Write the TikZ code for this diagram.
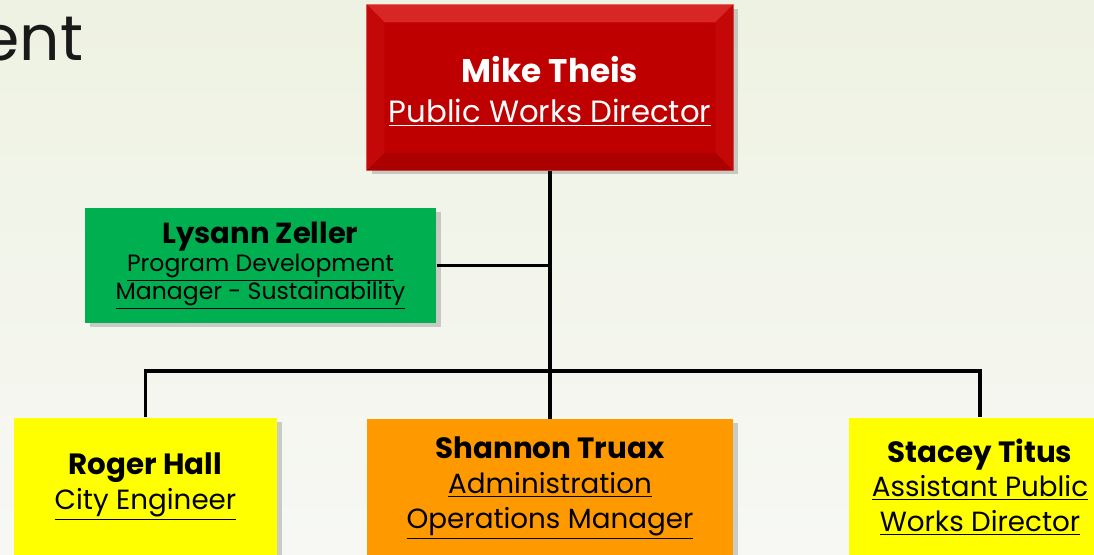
\documentclass[tikz,border=0pt]{standalone}
\usepackage{fontspec}
\setmainfont{Poppins}
\usetikzlibrary{positioning,shadows}

\definecolor{bossred}{HTML}{BE0000}
\definecolor{bevellight}{HTML}{D82624}
\definecolor{beveldark}{HTML}{AC0000}
\definecolor{bevelside}{HTML}{C40808}
\definecolor{staffgreen}{HTML}{00B050}
\definecolor{staffyellow}{HTML}{FFFF00}
\definecolor{stafforange}{HTML}{FF9900}
\definecolor{bgtop}{HTML}{EEF2E2}
\definecolor{bgbottom}{HTML}{F7F8F4}

\newcommand{\staffname}[1]{{\fontsize{16.7}{19.8}\selectfont\textbf{#1}}}

\begin{document}
\begin{tikzpicture}[x=0.02cm,y=-0.02cm,
            thick,
            org box/.style={rectangle,inner sep=0pt,align=center,
                font=\fontsize{15.8}{19.8}\selectfont,
                drop shadow={shadow xshift=0.1cm,shadow yshift=-0.08cm,
                    opacity=0.3,fill=black!60}},
            link/.style={line width=2pt,black}]

        % Background
        \clip (0,0) rectangle (1094,554);
        \useasboundingbox (0,0) rectangle (1094,554);
        \shade[top color=bgtop,bottom color=bgbottom] (0,0) rectangle (1094,554);
        \node[anchor=base east,inner sep=0pt,font=\fontsize{36}{40}\selectfont,text=black!90]
            (title) at (84,61) {ent};

        % Define vertices
        \node[org box,fill=bossred,text=white,minimum width=7.32cm,minimum height=3.3cm]
            (theis) at (550,87.5) {};
        \node[org box,fill=staffgreen,minimum width=7.02cm,minimum height=2.3cm,
              font=\fontsize{13.4}{16}\selectfont]
            (zeller) at (260.5,265.5) {{\fontsize{16.5}{18.5}\selectfont\textbf{Lysann Zeller}}\\
              \underline{Program Development}\\\underline{Manager - Sustainability}};
        \node[org box,fill=staffyellow,minimum width=5.26cm,minimum height=2.76cm]
            (hall) at (145.5,487) {\staffname{Roger Hall}\\\underline{City Engineer}};
        \node[org box,fill=stafforange,minimum width=7.32cm,minimum height=2.76cm]
            (truax) [below=4.96cm of theis] {\staffname{Shannon Truax}\\
              \underline{Administration}\\\underline{Operations Manager}};
        \node[org box,fill=staffyellow,minimum width=5.24cm,minimum height=2.76cm]
            (titus) at (980,487) {\staffname{Stacey Titus}\\
              \underline{Assistant Public}\\\underline{Works Director}};

        % Bevel of the director box
        \fill[bevellight] (theis.north west) -- (theis.north east)
            -- ([shift={(-18,18)}]theis.north east) -- ([shift={(18,18)}]theis.north west) -- cycle;
        \fill[beveldark] (theis.south west) -- (theis.south east)
            -- ([shift={(-18,-18)}]theis.south east) -- ([shift={(18,-18)}]theis.south west) -- cycle;
        \fill[bevelside] (theis.north west) -- ([shift={(18,18)}]theis.north west)
            -- ([shift={(18,-18)}]theis.south west) -- (theis.south west) -- cycle;
        \fill[bevelside] (theis.north east) -- ([shift={(-18,18)}]theis.north east)
            -- ([shift={(-18,-18)}]theis.south east) -- (theis.south east) -- cycle;
        \node[text=white,align=center,font=\fontsize{17.5}{22.7}\selectfont]
            (theistext) at ([yshift=-2]theis.center)
            {{\fontsize{18.6}{22.7}\selectfont\textbf{Mike Theis}}\\\underline{Public Works Director}};

        % Draw edges
        \coordinate (bus) at (549,371);
        \draw[link] (theis.south) -- (truax.north);
        \draw[link] (zeller.east) -- (zeller.east -| theis.south);
        \draw[link] (hall.north) |- (bus) -| (titus.north);

\end{tikzpicture}
\end{document}
